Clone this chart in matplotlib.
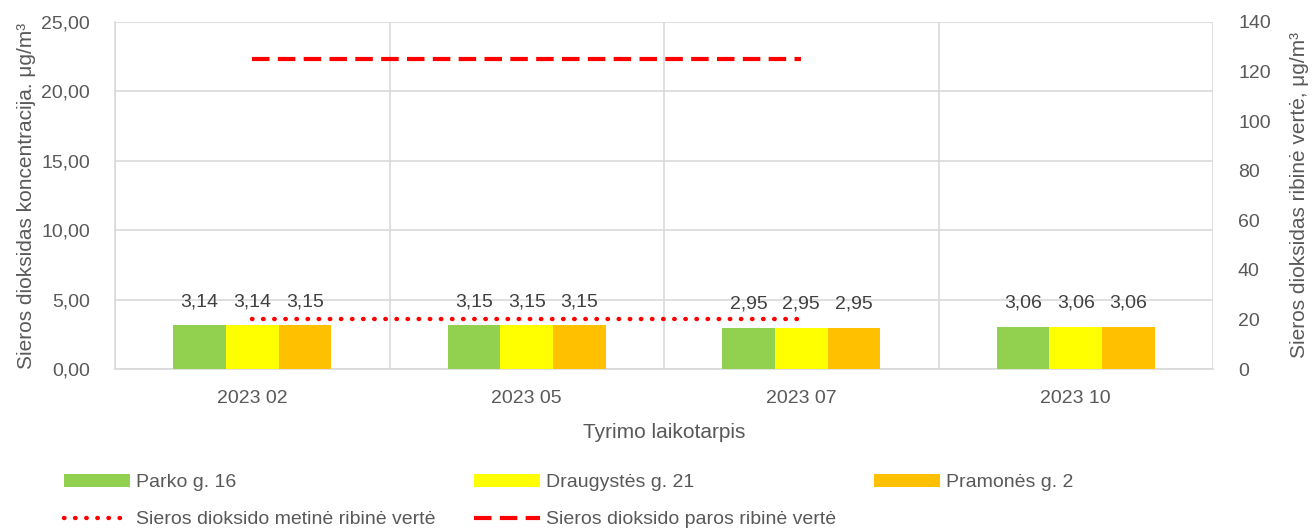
import matplotlib
matplotlib.use('Agg')
import matplotlib.pyplot as plt
import numpy as np

plt.rcParams['font.family'] = ['Liberation Sans Narrow', 'Liberation Sans', 'DejaVu Sans']

periods = ["2023 02", "2023 05", "2023 07", "2023 10"]
series_names = ["Parko g. 16", "Draugystės g. 21", "Pramonės g. 2"]
parko = [3.14, 3.15, 2.95, 3.06]
draugystes = [3.14, 3.15, 2.95, 3.06]
pramones = [3.15, 3.15, 2.95, 3.06]
metine_riba = [20, 20, 20]
paros_riba = [125, 125, 125]

colors = ['#92D050', '#FFFF00', '#FFC000']
text_color = '#595959'
grid_color = '#D9D9D9'

fig = plt.figure(figsize=(13.15, 5.29), dpi=100)
ax = fig.add_axes([115 / 1315, 1 - 369 / 529, 1098 / 1315, 347 / 529])
ax2 = ax.twinx()

x = np.arange(len(periods))
w = 0.192
bars = []
for i, (vals, name, c) in enumerate(zip([parko, draugystes, pramones], series_names, colors)):
    b = ax.bar(x + (i - 1) * w, vals, w, color=c, label=name, zorder=3)
    bars.append(b)
    for xi, v in zip(x + (i - 1) * w, vals):
        ax.annotate(f"{v:.2f}".replace('.', ','), (xi, v), xytext=(0, 11),
                    textcoords='offset points', ha='center', va='bottom',
                    fontsize=14, color='#404040')

ax.set_xlim(-0.5, 3.5)
ax.set_ylim(0, 25)
ax.set_yticks(np.arange(0, 26, 5))
ax.set_yticklabels([f"{v:.2f}".replace('.', ',') for v in np.arange(0, 26, 5)])
ax.set_xticks(x)
ax.set_xticklabels(periods)
ax.set_xticks(np.arange(-0.5, 3.6, 1), minor=True)
ax.grid(axis='y', color=grid_color, lw=1.2, zorder=0)
ax.grid(axis='x', which='minor', color=grid_color, lw=1.2, zorder=0)
ax.tick_params(which='both', length=0, labelsize=14, labelcolor=text_color)
ax.tick_params(axis='x', pad=15)
ax.tick_params(axis='y', pad=18)

ax2.set_ylim(0, 140)
ax2.set_yticks(np.arange(0, 141, 20))
ax2.tick_params(length=0, labelsize=14, labelcolor=text_color, pad=18)

l1, = ax2.plot(x[:3], metine_riba, color='#FF0000', lw=3.2, linestyle=(0, (0.1, 2.4)),
               dash_capstyle='round', label="Sieros dioksido metinė ribinė vertė")
l2, = ax2.plot(x[:3], paros_riba, color='#FF0000', lw=3, linestyle=(0, (4.2, 2.0)),
               label="Sieros dioksido paros ribinė vertė")

for a in (ax, ax2):
    for s in a.spines.values():
        s.set_visible(False)
ax.spines['left'].set_visible(True)
ax.spines['left'].set_color(grid_color)
ax.spines['bottom'].set_visible(True)
ax.spines['bottom'].set_color(grid_color)
ax.spines['left'].set_linewidth(1.2)
ax.spines['bottom'].set_linewidth(1.2)

ax.set_ylabel("Sieros dioksidas koncentracija. μg/m³", fontsize=15, color=text_color, labelpad=4)
ax2.set_ylabel("Sieros dioksidas ribinė vertė, μg/m³", fontsize=15, color=text_color, labelpad=14)
ax.set_xlabel("Tyrimo laikotarpis", fontsize=15, color=text_color, labelpad=12)

handles = [bars[0], l1, bars[1], l2, bars[2]]
labels = [h.get_label() for h in handles]
fig.legend(handles, labels, loc='upper left', bbox_to_anchor=(0.043, 0.119), ncol=3,
           frameon=False, fontsize=14, labelcolor=text_color, handlelength=3.4,
           handletextpad=0.3, columnspacing=1.95, labelspacing=1.0, borderaxespad=0)

fig.savefig('out.png', dpi=100)
